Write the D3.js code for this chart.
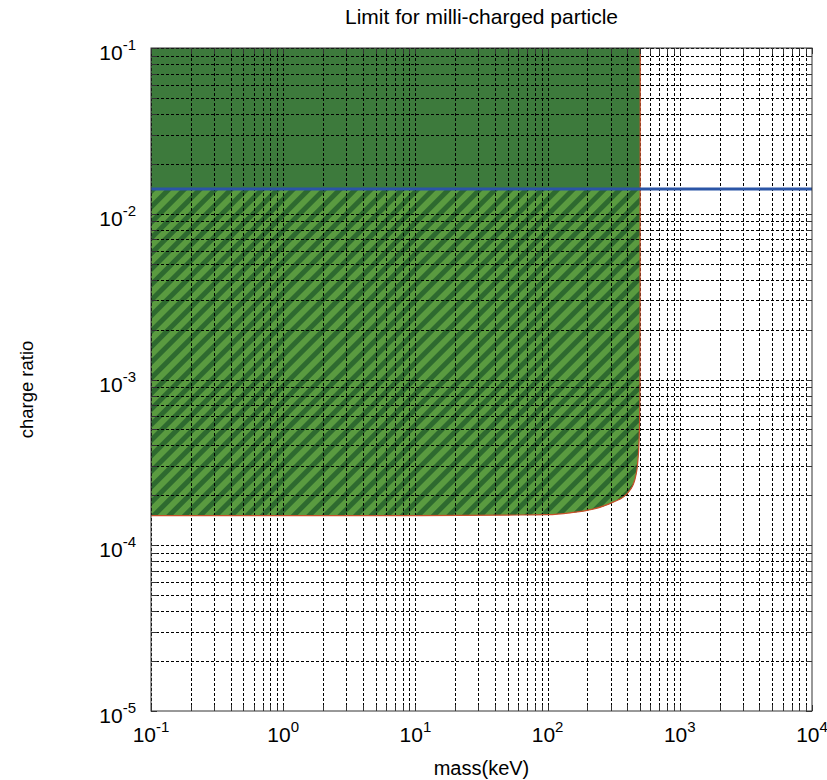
<!DOCTYPE html>
<html lang="en">

<head>
    <meta charset="UTF-8" />
    <title>Limit for milli-charged particle</title>
    <script src="https://d3js.org/d3.v7.js"></script>
    <style>
        body { margin: 0; background: #fff; }
        text { font-family: "Liberation Sans", Arial, sans-serif; fill: #000; }
    </style>
</head>

<body>
    <svg id="chart"></svg>
</body>

<script>
    // chart text
    const title = "Limit for milli-charged particle";
    const xLabel = "mass(keV)";
    const yLabel = "charge ratio";

    // axis ranges (log) and tick exponents
    const xDomain = [0.1, 1e4];
    const yDomain = [1e-5, 1e-1];
    const xExponents = [-1, 0, 1, 2, 3, 4];
    const yExponents = [-5, -4, -3, -2, -1];

    // excluded region boundary
    const boundaryMass = [0.1, 1, 10, 50, 100, 148, 220, 313, 406, 458, 483, 495, 500, 502];
    const boundaryCharge = [1.51e-4, 1.51e-4, 1.51e-4, 1.52e-4, 1.53e-4, 1.57e-4, 1.65e-4, 1.82e-4, 2.08e-4, 2.5e-4, 3.3e-4, 5e-4, 1e-3, 1e-1];

    // horizontal limit (blue line)
    const limitCharge = 0.0141;

    var width = 827;
    var height = 780;
    var margin = { top: 48, right: 15, bottom: 69, left: 151 };
    var w = width - margin.left - margin.right;
    var h = height - margin.top - margin.bottom;

    var svg = d3.select("#chart")
        .attr("width", width)
        .attr("height", height);

    var defs = svg.append("defs");
    defs.append("clipPath").attr("id", "plot-clip")
        .append("rect").attr("width", w).attr("height", h);

    var pat = defs.append("pattern")
        .attr("id", "stripes")
        .attr("patternUnits", "userSpaceOnUse")
        .attr("width", 11).attr("height", 11)
        .attr("patternTransform", "rotate(45)");
    pat.append("rect").attr("width", 11).attr("height", 11).attr("fill", "#5a9b40");
    pat.append("rect").attr("width", 5).attr("height", 11).attr("fill", "#2e6a2f");

    var g = svg.append("g")
        .attr("transform", `translate(${margin.left},${margin.top})`);

    var x = d3.scaleLog().domain(xDomain).range([0, w]);
    var y = d3.scaleLog().domain(yDomain).range([h, 0]);

    // region polygon
    var line = d3.line().x(d => x(d[0])).y(d => y(d[1])).curve(d3.curveMonotoneX);
    var edge = boundaryMass.map((m, i) => [m, boundaryCharge[i]]);
    var areaPath = "M" + x(xDomain[0]) + "," + y(yDomain[1]) + line(edge).replace(/^M/, "L") + "Z";

    var plot = g.append("g").attr("clip-path", "url(#plot-clip)");

    plot.append("path").attr("d", areaPath).attr("fill", "#3d7a3c");

    defs.append("clipPath").attr("id", "below-limit")
        .append("rect").attr("x", 0).attr("y", y(limitCharge))
        .attr("width", w).attr("height", h - y(limitCharge));
    plot.append("g").attr("clip-path", "url(#below-limit)")
        .append("path").attr("d", areaPath).attr("fill", "url(#stripes)");

    // grid lines at every log tick
    var xTicks = [], yTicks = [];
    xExponents.forEach(e => { for (var k = 1; k < 10; k++) { var v = k * Math.pow(10, e); if (v <= xDomain[1] * 1.0001) xTicks.push(v); } });
    yExponents.forEach(e => { for (var k = 1; k < 10; k++) { var v = k * Math.pow(10, e); if (v <= yDomain[1] * 1.0001) yTicks.push(v); } });

    var grid = plot.append("g")
        .attr("stroke", "#000").attr("stroke-width", 1)
        .attr("stroke-dasharray", "3,2");
    grid.selectAll(".gx").data(xTicks).enter().append("line")
        .attr("x1", d => Math.round(x(d)) + 0.5).attr("x2", d => Math.round(x(d)) + 0.5)
        .attr("y1", 0).attr("y2", h);
    grid.selectAll(".gy").data(yTicks).enter().append("line")
        .attr("y1", d => Math.round(y(d)) + 0.5).attr("y2", d => Math.round(y(d)) + 0.5)
        .attr("x1", 0).attr("x2", w);

    // boundary outline
    plot.append("path")
        .attr("d", "M" + x(xDomain[0]) + "," + y(boundaryCharge[0]) + line(edge).replace(/^M/, "L"))
        .attr("fill", "none").attr("stroke", "#c8502a").attr("stroke-width", 1.2);

    // limit line
    plot.append("line")
        .attr("x1", 0).attr("x2", w)
        .attr("y1", y(limitCharge)).attr("y2", y(limitCharge))
        .attr("stroke", "#2b55a6").attr("stroke-width", 3);

    // box and ticks
    g.append("rect").attr("width", w).attr("height", h)
        .attr("fill", "none").attr("stroke", "#333").attr("stroke-width", 1);
    var ticks = g.append("g").attr("stroke", "#333").attr("stroke-width", 1);
    xTicks.forEach(v => {
        var px = Math.round(x(v)) + 0.5;
        ticks.append("line").attr("x1", px).attr("x2", px).attr("y1", h).attr("y2", h - 6);
        ticks.append("line").attr("x1", px).attr("x2", px).attr("y1", 0).attr("y2", 6);
    });
    yTicks.forEach(v => {
        var py = Math.round(y(v)) + 0.5;
        ticks.append("line").attr("y1", py).attr("y2", py).attr("x1", 0).attr("x2", 6);
        ticks.append("line").attr("y1", py).attr("y2", py).attr("x1", w).attr("x2", w - 6);
    });

    // tick labels
    xExponents.forEach(e => {
        var t = g.append("text")
            .attr("x", x(Math.pow(10, e)))
            .attr("y", h + 31)
            .attr("text-anchor", "middle")
            .style("font-size", "21px");
        t.append("tspan").text("10");
        t.append("tspan").attr("dy", -10).style("font-size", "15px").text(e);
    });
    yExponents.forEach(e => {
        var t = g.append("text")
            .attr("x", -15)
            .attr("y", y(Math.pow(10, e)) + 12)
            .attr("text-anchor", "end")
            .style("font-size", "21px");
        t.append("tspan").text("10");
        t.append("tspan").attr("dy", -10).style("font-size", "15px").text(e);
    });

    // titles
    svg.append("text")
        .attr("x", margin.left + w / 2).attr("y", 24)
        .attr("text-anchor", "middle")
        .style("font-size", "21px")
        .text(title);
    svg.append("text")
        .attr("x", margin.left + w / 2).attr("y", 775)
        .attr("text-anchor", "middle")
        .style("font-size", "20px")
        .text(xLabel);
    svg.append("text")
        .attr("transform", `translate(33,${margin.top + h / 2 + 10}) rotate(-90)`)
        .attr("text-anchor", "middle")
        .style("font-size", "18.5px")
        .text(yLabel);
</script>

</html>
